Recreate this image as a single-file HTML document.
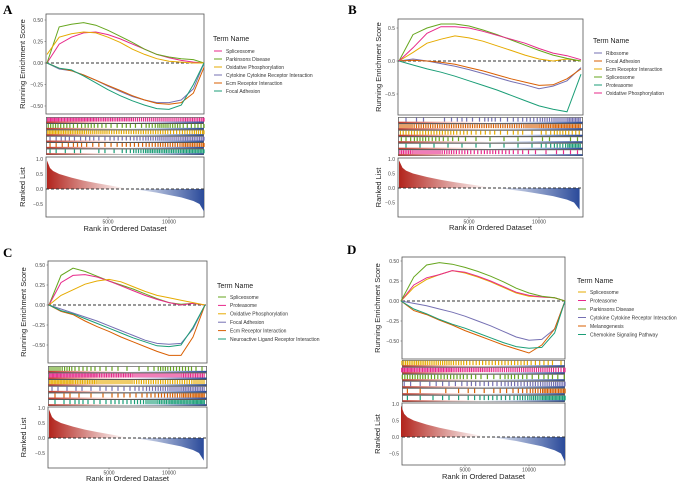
<!DOCTYPE html>
<html><head><meta charset="utf-8">
<style>
html,body{margin:0;padding:0;background:#fff;}
svg{display:block;font-family:"Liberation Sans",sans-serif;}
</style></head>
<body>
<svg id="fig" width="685" height="486" viewBox="0 0 685 486" xmlns="http://www.w3.org/2000/svg">
<defs>
<linearGradient id="rkGrad" x1="0" x2="1" y1="0" y2="0">
<stop offset="0" stop-color="#b2241c"/><stop offset="0.5" stop-color="#ffffff"/><stop offset="1" stop-color="#2a4a9a"/>
</linearGradient>
<linearGradient id="bandGrad" x1="0" x2="1" y1="0" y2="0">
<stop offset="0" stop-color="#c0392b"/><stop offset="0.3" stop-color="#f4d0cc"/><stop offset="0.5" stop-color="#ffffff"/><stop offset="0.7" stop-color="#c9d3ea"/><stop offset="1" stop-color="#2a4a9a"/>
</linearGradient>
</defs>
</svg>
<script>
const rankGrid = [0,1000,2000,3000,4000,5000,6000,7000,8000,9000,10000,11000,12000,13000];
const rankedGrid = [0,250,500,1000,2000,3000,4000,5000,6000,7000,8000,9000,10000,11000,12000,12500,12900];
const rankedMetric = [0.95,0.7,0.6,0.5,0.38,0.28,0.2,0.13,0.06,0,-0.06,-0.12,-0.2,-0.28,-0.4,-0.5,-0.75];

const termsA = ["Spliceosome","Parkinsons Disease","Oxidative Phosphorylation","Cytokine Cytokine Receptor Interaction","Ecm Receptor Interaction","Focal Adhesion"];
const colorsA = ["#e7298a","#66a61e","#e6ab02","#7570b3","#d95f02","#1b9e77"];
const esA = [
 [0,0.22,0.30,0.35,0.36,0.33,0.28,0.22,0.16,0.10,0.06,0.03,0.01,0],
 [0,0.42,0.45,0.47,0.44,0.38,0.31,0.24,0.16,0.10,0.07,0.05,0.04,0],
 [0.1,0.30,0.34,0.36,0.35,0.30,0.24,0.16,0.10,0.05,0.02,0.01,0,0],
 [0,-0.07,-0.09,-0.14,-0.20,-0.27,-0.33,-0.39,-0.43,-0.46,-0.46,-0.43,-0.30,0],
 [0,-0.06,-0.09,-0.14,-0.20,-0.26,-0.32,-0.38,-0.43,-0.47,-0.48,-0.46,-0.35,-0.05],
 [0,-0.06,-0.08,-0.15,-0.23,-0.31,-0.38,-0.44,-0.49,-0.53,-0.54,-0.49,-0.25,0]];
const hitsA = ["9888777666677","5434323246534","8776655555456","2323233456677","2232223345577","2120213577788"];

const termsB = ["Ribosome","Focal Adhesion","Ecm Receptor Interaction","Spliceosome","Proteasome","Oxidative Phosphorylation"];
const colorsB = ["#7570b3","#d95f02","#e6ab02","#66a61e","#1b9e77","#e7298a"];
const esB = [
 [0,0.03,0,-0.04,-0.08,-0.13,-0.19,-0.25,-0.31,-0.36,-0.42,-0.38,-0.30,-0.1],
 [0,0.01,0,-0.02,-0.05,-0.10,-0.15,-0.21,-0.27,-0.32,-0.37,-0.36,-0.27,-0.12],
 [0,0.13,0.27,0.33,0.38,0.35,0.30,0.23,0.16,0.09,0.03,0,0.03,0],
 [0,0.40,0.50,0.56,0.56,0.53,0.47,0.40,0.32,0.24,0.16,0.09,0.04,0],
 [0,-0.06,-0.12,-0.17,-0.23,-0.30,-0.37,-0.44,-0.52,-0.60,-0.68,-0.73,-0.77,-0.2],
 [0,0.20,0.42,0.52,0.52,0.50,0.45,0.39,0.33,0.27,0.19,0.12,0.08,0.02]];
const hitsB = ["1202324234679","7666666667899","5555433231354","3543211111202","1111111111359","8776545432122"];

const termsC = ["Spliceosome","Proteasome","Oxidative Phosphorylation","Focal Adhesion","Ecm Receptor Interaction","Neuroactive Ligand Receptor Interaction"];
const colorsC = ["#66a61e","#e7298a","#e6ab02","#7570b3","#d95f02","#1b9e77"];
const esC = [
 [0,0.37,0.46,0.42,0.36,0.30,0.25,0.20,0.14,0.08,0.03,0.01,0.02,0],
 [0,0.28,0.37,0.38,0.35,0.30,0.24,0.18,0.12,0.07,0.03,0,0.02,0],
 [0,0.12,0.19,0.26,0.30,0.32,0.29,0.23,0.17,0.12,0.09,0.06,0.03,0],
 [0,-0.05,-0.10,-0.15,-0.20,-0.26,-0.32,-0.38,-0.44,-0.48,-0.49,-0.48,-0.30,0],
 [0,-0.08,-0.12,-0.20,-0.27,-0.33,-0.40,-0.46,-0.52,-0.58,-0.63,-0.63,-0.40,0],
 [0,-0.07,-0.11,-0.17,-0.23,-0.29,-0.35,-0.41,-0.46,-0.51,-0.52,-0.50,-0.28,0]];
const hitsC = ["6533221125442","9888777666677","8877666555556","2121222345677","1211122234578","1232233467889"];

const termsD = ["Spliceosome","Proteasome","Parkinsons Disease","Cytokine Cytokine Receptor Interaction","Melanogenesis","Chemokine Signaling Pathway"];
const colorsD = ["#e6ab02","#e7298a","#66a61e","#7570b3","#d95f02","#1b9e77"];
const esD = [
 [0,0.17,0.27,0.33,0.38,0.35,0.30,0.24,0.17,0.10,0.06,0.05,0.04,0],
 [0,0.20,0.29,0.33,0.38,0.36,0.31,0.25,0.18,0.11,0.07,0.05,0.04,0],
 [0,0.30,0.45,0.48,0.46,0.42,0.37,0.31,0.24,0.16,0.10,0.06,0.04,0],
 [0,-0.03,-0.06,-0.10,-0.14,-0.19,-0.25,-0.31,-0.38,-0.45,-0.49,-0.48,-0.35,0],
 [0,-0.12,-0.17,-0.24,-0.30,-0.37,-0.43,-0.49,-0.55,-0.60,-0.65,-0.55,-0.35,0],
 [0,-0.10,-0.16,-0.23,-0.29,-0.34,-0.40,-0.46,-0.52,-0.57,-0.59,-0.58,-0.40,0]];
const hitsD = ["7766544444331","9888777666665","5544432243232","2122233344567","1101121223588","1112123335799"];

const esTicks4 = [0.5,0.25,0,-0.25,-0.5];
const esTickLabels4 = ["0.50","0.25","0.00","\u22120.25","\u22120.50"];
const esTicks3 = [0.5,0,-0.5];
const esTickLabels3 = ["0.5","0.0","\u22120.5"];
const rkTicks = [1,0.5,0,-0.5];
const rkTickLabels = ["1.0","0.5","0.0","\u22120.5"];
const xTicks = [5000,10000];
const xTickLabels = ["5000","10000"];

const NS = "http://www.w3.org/2000/svg";
const svg = document.getElementById('fig');
function mk(tag, attrs, parent, text){
  const el = document.createElementNS(NS, tag);
  for (const k in attrs) el.setAttribute(k, attrs[k]);
  if (text !== undefined) el.textContent = text;
  (parent||svg).appendChild(el);
  return el;
}

const panels = [
 {id:"a",letter:"A",lx:3,ly:14,bx0:46,bx1:204,by0:14,by1:114,xr0:47,px:0.0122,esZero:63,esPx:86,ticks:esTicks4,tickL:esTickLabels4,s0:117,s1:155,r0:157,r1:217,rZero:189,rPx:30,xlabY:231,legX:213,legT:41,legY0:51,dy:8,yTitleX:25,terms:termsA,colors:colorsA,es:esA,hits:hitsA},
 {id:"b",letter:"B",lx:348,ly:14,bx0:398,bx1:583,by0:19,by1:115,xr0:399,px:0.014,esZero:61,esPx:66,ticks:esTicks3,tickL:esTickLabels3,s0:117,s1:156,r0:158,r1:217,rZero:188,rPx:29,xlabY:230,legX:593,legT:43,legY0:53,dy:8,yTitleX:381,terms:termsB,colors:colorsB,es:esB,hits:hitsB},
 {id:"c",letter:"C",lx:3,ly:257,bx0:48,bx1:207,by0:261,by1:363,xr0:49,px:0.012,esZero:305,esPx:80,ticks:esTicks4,tickL:esTickLabels4,s0:366,s1:406,r0:407,r1:468,rZero:438,rPx:30,xlabY:481,legX:217,legT:288,legY0:297,dy:8.4,yTitleX:26,terms:termsC,colors:colorsC,es:esC,hits:hitsC},
 {id:"d",letter:"D",lx:347,ly:254,bx0:402,bx1:565,by0:257,by1:359,xr0:401,px:0.0128,esZero:301,esPx:80,ticks:esTicks4,tickL:esTickLabels4,s0:360,s1:402,r0:403,r1:465,rZero:437,rPx:33,xlabY:479,legX:577,legT:283,legY0:292,dy:8.5,yTitleX:380,terms:termsD,colors:colorsD,es:esD,hits:hitsD}
];

panels.forEach(p => {
  const g = mk('g', {});
  
  
  const X = r => Math.min(p.xr0 + r * p.px, p.bx1);
  const Y = v => p.esZero - v * p.esPx;
  const RY = v => p.rZero - v * p.rPx;

  const lt = mk('text', {x:p.lx, y:p.ly, 'font-family':'Liberation Serif, serif', 'font-weight':'bold', 'font-size':13, fill:'#000'}, g, p.letter);
  
  

  const box = mk('rect', {x:p.bx0, y:p.by0, width:p.bx1-p.bx0, height:p.by1-p.by0, fill:'#fff', stroke:'#555', 'stroke-width':0.8}, g);
  
  
  const zl = mk('line', {x1:p.bx0, x2:p.bx1, y1:Y(0), y2:Y(0), stroke:'#333', 'stroke-width':0.9, 'stroke-dasharray':'3,2'}, g);
  
  
  p.ticks.forEach((t, i) => {
    const tl = mk('text', {x:p.bx0-3, y:Y(t)+1.8, 'font-size':5, 'text-anchor':'end', fill:'#444'}, g, p.tickL[i]);
    
    
    mk('line', {x1:p.bx0-1.5, x2:p.bx0, y1:Y(t), y2:Y(t), stroke:'#555', 'stroke-width':0.5}, g);
  });
  const cy = (p.by0 + p.by1) / 2;
  const yt = mk('text', {x:p.yTitleX, y:cy, 'font-size':7.5, 'text-anchor':'middle', fill:'#222', transform:`rotate(-90 ${p.yTitleX} ${cy})`}, g, 'Running Enrichment Score');
  
  

  p.es.forEach((arr, i) => {
    const d = arr.map((v, k) => (k ? 'L' : 'M') + X(rankGrid[k]).toFixed(1) + ',' + Y(v).toFixed(1)).join('');
    const pl = mk('path', {d:d, fill:'none', stroke:p.colors[i], 'stroke-width':1}, g);
    
    
  });

  const n = p.hits.length;
  const sh = (p.s1 - p.s0) / n;
  mk('rect', {x:p.bx0, y:p.s0, width:p.bx1-p.bx0, height:p.s1-p.s0, fill:'#999'}, g);
  p.hits.forEach((str, i) => {
    const y0 = p.s0 + i * sh + 0.4, h = sh - 0.8;
    const sr = mk('rect', {x:p.bx0+0.5, y:y0, width:p.bx1-p.bx0-1, height:h, fill:'#fff', stroke:'#333', 'stroke-width':0.5}, g);
    
    
    for (let b = 0; b < str.length; b++) {
      const c = +str[b];
      for (let k = 0; k < c; k++) {
        const r = b * 1000 + (k + 0.5) * 1000 / c;
        const hl = mk('line', {x1:X(r), x2:X(r), y1:y0+0.3, y2:y0+h-1.3, stroke:p.colors[i], 'stroke-width':1.2}, g);
        
        
      }
    }
    mk('rect', {x:p.bx0+0.5, y:y0+h-1.4, width:p.bx1-p.bx0-1, height:1.4, fill:'url(#bandGrad)'}, g);
  });

  const rb = mk('rect', {x:p.bx0, y:p.r0, width:p.bx1-p.bx0, height:p.r1-p.r0, fill:'#fff', stroke:'#555', 'stroke-width':0.8}, g);
  
  
  let d = 'M' + X(0) + ',' + RY(0);
  rankedMetric.forEach((v, k) => { d += 'L' + X(rankedGrid[k]).toFixed(1) + ',' + RY(v).toFixed(1); });
  d += 'L' + X(rankedGrid[rankedGrid.length-1]).toFixed(1) + ',' + RY(0) + 'Z';
  const ra = mk('path', {d:d, fill:'url(#rkGrad)'}, g);
  
  
  mk('line', {x1:p.bx0, x2:p.bx1, y1:RY(0), y2:RY(0), stroke:'#333', 'stroke-width':0.9, 'stroke-dasharray':'3,2'}, g);
  rkTicks.forEach((t, i) => {
    const tl = mk('text', {x:p.bx0-3, y:RY(t)+1.8, 'font-size':5, 'text-anchor':'end', fill:'#444'}, g, rkTickLabels[i]);
    
    
  });
  const rcy = (p.r0 + p.r1) / 2;
  const rt = mk('text', {x:p.yTitleX, y:rcy, 'font-size':7.5, 'text-anchor':'middle', fill:'#222', transform:`rotate(-90 ${p.yTitleX} ${rcy})`}, g, 'Ranked List');
  
  
  xTicks.forEach((t, i) => {
    mk('line', {x1:X(t), x2:X(t), y1:p.r1, y2:p.r1+1.5, stroke:'#555', 'stroke-width':0.5}, g);
    const tl = mk('text', {x:X(t), y:p.r1+6.5, 'font-size':5, 'text-anchor':'middle', fill:'#444'}, g, xTickLabels[i]);
    
    
  });
  const xt = mk('text', {x:(p.bx0+p.bx1)/2, y:p.xlabY, 'font-size':7.5, 'text-anchor':'middle', fill:'#222'}, g, 'Rank in Ordered Dataset');
  
  

  const lg = mk('g', {}, g);
  
  
  mk('text', {x:p.legX, y:p.legT, 'font-size':7, fill:'#222'}, lg, 'Term Name');
  p.terms.forEach((t, i) => {
    const yy = p.legY0 + i * p.dy;
    const e = mk('g', {}, lg);
    
    
    mk('line', {x1:p.legX+1, x2:p.legX+9, y1:yy, y2:yy, stroke:p.colors[i], 'stroke-width':1}, e);
    mk('text', {x:p.legX+13, y:yy+1.8, 'font-size':5, fill:'#333'}, e, t);
  });
});
</script>
</body></html>
